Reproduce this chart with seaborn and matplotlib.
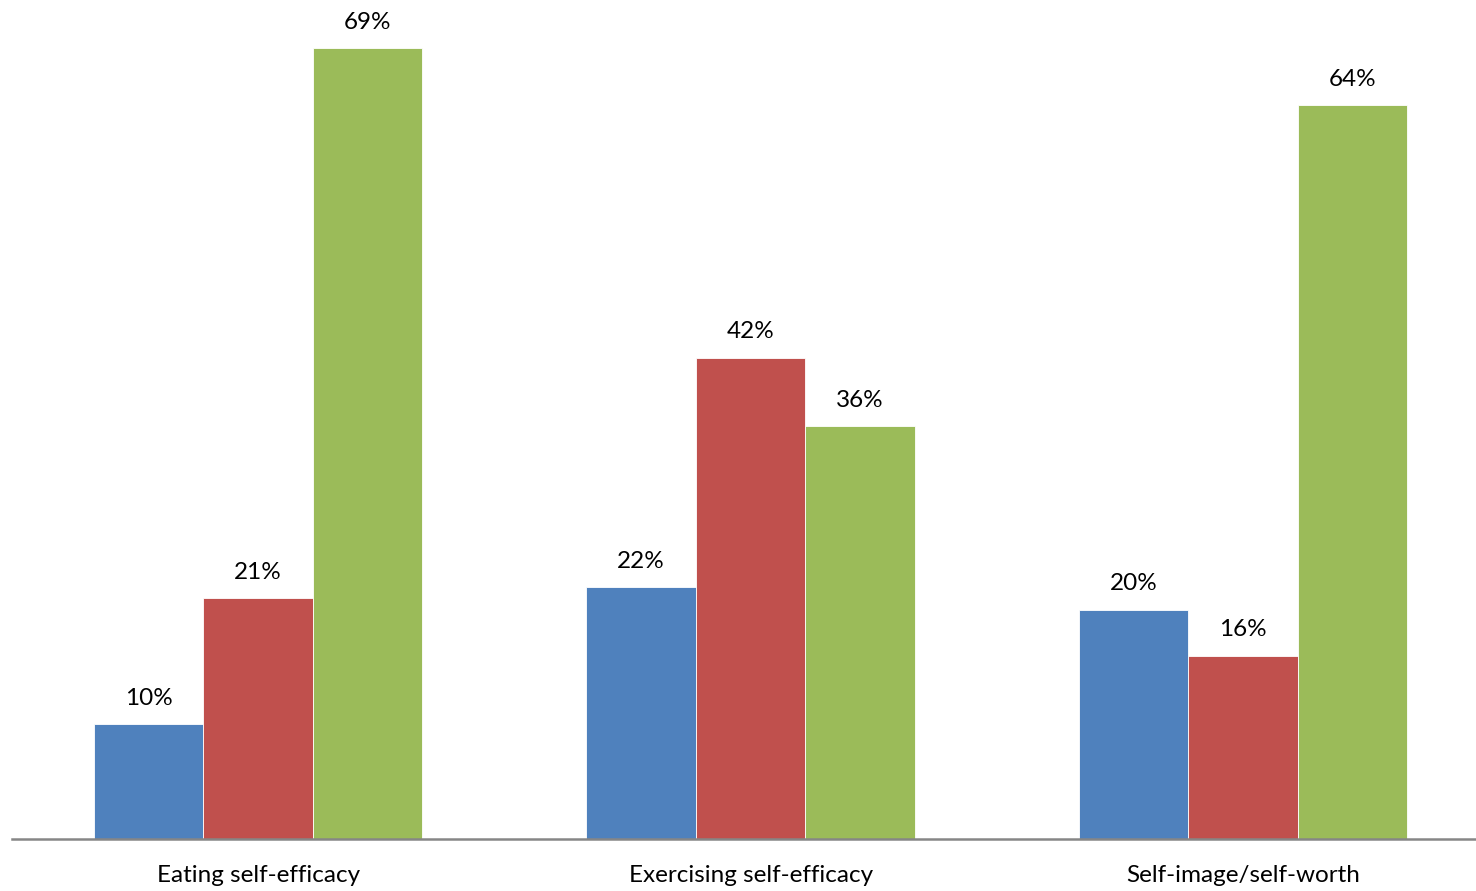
import matplotlib
matplotlib.use("Agg")
import matplotlib.pyplot as plt
import seaborn as sns
import pandas as pd

categories = ["Eating self-efficacy", "Exercising self-efficacy", "Self-image/self-worth"]
series_names = ["Series 1", "Series 2", "Series 3"]
series_1 = [10, 22, 20]
series_2 = [21, 42, 16]
series_3 = [69, 36, 64]
colors = ["#4F81BD", "#C0504D", "#9BBB59"]

rows = []
for name, vals in zip(series_names, [series_1, series_2, series_3]):
    for cat, v in zip(categories, vals):
        rows.append({"category": cat, "series": name, "value": v})
df = pd.DataFrame(rows)

sns.set_theme(style="white")
plt.rcParams["font.family"] = ["Lato", "DejaVu Sans"]

fig = plt.figure(figsize=(14.76, 8.91), dpi=100)
ax = fig.add_axes([12 / 1476, 52 / 891, 1 - 12 / 1476, 1 - 52 / 891])

sns.barplot(data=df, x="category", y="value", hue="series", palette=colors,
            width=0.667, order=categories, hue_order=series_names,
            edgecolor="white", linewidth=0.6, saturation=1, legend=False, ax=ax)

for container in ax.containers:
    labels = [f"{int(round(b.get_height()))}%" for b in container]
    ax.bar_label(container, labels=labels, padding=11, fontsize=17.5, color="black")

ax.set_xlim(-0.5, 2.473)
ax.set_ylim(0, 73.2)
ax.set_xlabel("")
ax.set_ylabel("")
ax.set_yticks([])
ax.tick_params(axis="x", length=0, pad=19, labelsize=17.5, labelcolor="black")
for side in ["top", "right", "left"]:
    ax.spines[side].set_visible(False)
ax.spines["bottom"].set_color("#868686")
ax.spines["bottom"].set_linewidth(1.8)

fig.savefig("out.png", dpi=100)
